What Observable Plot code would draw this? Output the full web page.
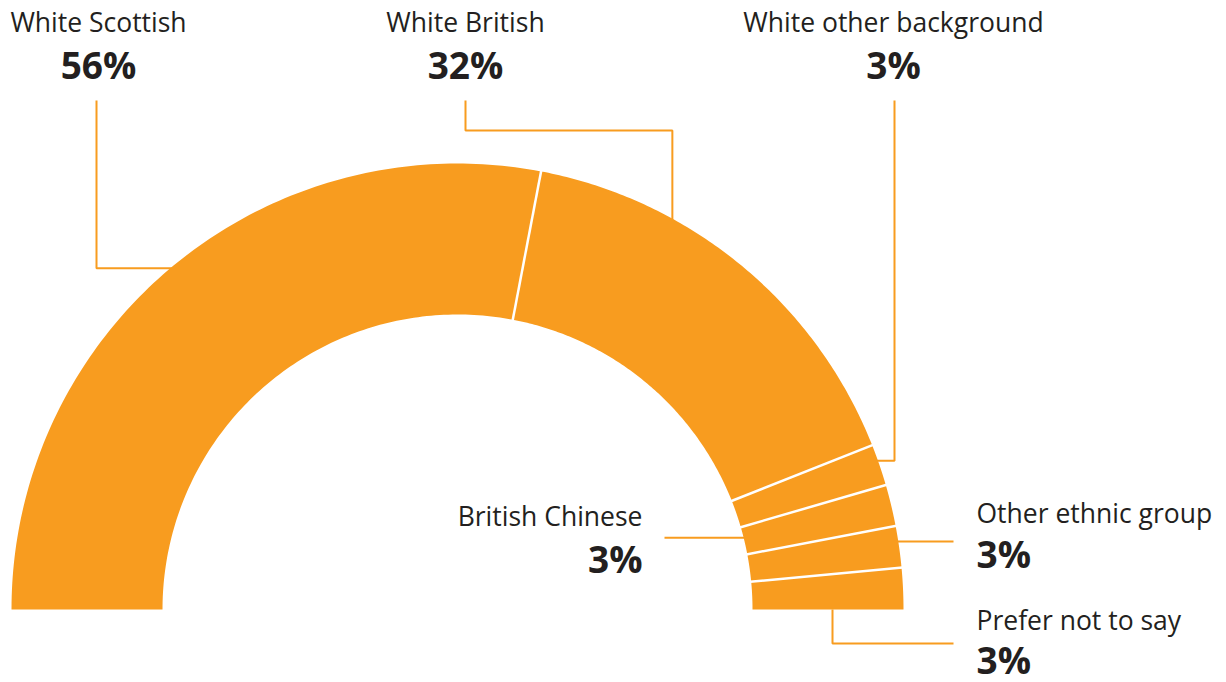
<!DOCTYPE html>
<html>
<head>
<meta charset="utf-8">
<script src="https://cdn.jsdelivr.net/npm/d3@7"></script>
<script src="https://cdn.jsdelivr.net/npm/@observablehq/plot@0.6"></script>
<style>
  html, body { margin: 0; padding: 0; background: #ffffff; }
  #chart svg { display: block; }
</style>
</head>
<body>
<div id="chart"></div>
<script>
// ---- Data ----
const categories = ["White Scottish", "White British", "White other background", "British Chinese", "Other ethnic group", "Prefer not to say"];
const values = [56, 32, 3, 3, 3, 3];
const pctLabels = ["56%", "32%", "3%", "3%", "3%", "3%"];

// ---- Layout (pixels) ----
const W = 1226, H = 682;
const cx = 457, cy = 609, rOuter = 446, rInner = 295, rMid = 370;
const orange = "#f89c1f";
const ink = "#231f20";
const font = "'Open Sans', 'Noto Sans', sans-serif";

// label placement: t = position along the slice used for the connector anchor
const labelLayout = [
  {x: 98,  anchor: "middle", yName: 31,  yPct: 78,  path: "top",      lineX: 96,  lineTop: 100, t: 0.495, ring: "outer"},
  {x: 465, anchor: "middle", yName: 31,  yPct: 78,  path: "topElbow", lineX: 465, lineTop: 100, elbowY: 130, t: 0.3125, ring: "outer"},
  {x: 893, anchor: "middle", yName: 31,  yPct: 78,  path: "top",      lineX: 894, lineTop: 100, t: 0.39, ring: "outer"},
  {x: 642, anchor: "end",    yName: 525, yPct: 572, path: "side",     lineX: 664, t: 0.39, ring: "inner"},
  {x: 976, anchor: "start",  yName: 522, yPct: 567, path: "side",     lineX: 953, t: 0.376, ring: "outer"},
  {x: 976, anchor: "start",  yName: 629, yPct: 673, path: "bottom",   lineX: 953, lineY: 643, t: 1, ring: "mid", r: 375}
];

// ---- Geometry from values via d3.pie ----
const pie = d3.pie().sort(null).value(d => d.value).startAngle(-Math.PI / 2).endAngle(Math.PI / 2);
const arcs = pie(categories.map((c, i) => ({category: c, value: values[i], pct: pctLabels[i]})));

const px = (r, a) => cx + r * Math.sin(a);
const py = (r, a) => cy - r * Math.cos(a);

const slicePts = [];
arcs.forEach((a, i) => {
  const n = 120;
  for (let k = 0; k <= n; k++) {
    const ang = a.startAngle + (a.endAngle - a.startAngle) * k / n;
    slicePts.push({slice: i, x: px(rOuter, ang), y: py(rOuter, ang)});
  }
  for (let k = n; k >= 0; k--) {
    const ang = a.startAngle + (a.endAngle - a.startAngle) * k / n;
    slicePts.push({slice: i, x: px(rInner, ang), y: py(rInner, ang)});
  }
});

const separators = arcs.slice(0, -1).map(a => ({
  x1: px(rInner - 1, a.endAngle), y1: py(rInner - 1, a.endAngle),
  x2: px(rOuter + 1, a.endAngle), y2: py(rOuter + 1, a.endAngle)
}));

// connectors
const connPts = [];
labelLayout.forEach((L, i) => {
  const a = arcs[i];
  const ang = a.startAngle + (a.endAngle - a.startAngle) * L.t;
  const rEdge = L.ring === "outer" ? rOuter : L.ring === "inner" ? rInner : L.r;
  const ex = px(rEdge, ang), ey = py(rEdge, ang);
  const mx = px(rMid, ang), my = py(rMid, ang);
  let pts;
  if (L.path === "top") pts = [[L.lineX, L.lineTop], [L.lineX, ey], [mx, ey]];
  else if (L.path === "topElbow") pts = [[L.lineX, L.lineTop], [L.lineX, L.elbowY], [ex, L.elbowY], [ex, my]];
  else if (L.path === "side") pts = [[L.lineX, ey], [mx, ey]];
  else pts = [[ex, ey], [ex, L.lineY], [L.lineX, L.lineY]];
  pts.forEach(p => connPts.push({k: i, x: p[0], y: p[1]}));
});

const labels = labelLayout.map((L, i) => ({...L, name: categories[i], pct: pctLabels[i]}));

const textMarks = ["middle", "end", "start"].flatMap(anchor => {
  const sub = labels.filter(d => d.anchor === anchor);
  return [
    Plot.text(sub, {x: "x", y: "yName", text: "name", textAnchor: anchor, lineAnchor: "bottom", fontSize: 26.5, fill: ink, fontFamily: font}),
    Plot.text(sub, {x: "x", y: "yPct", text: "pct", textAnchor: anchor, lineAnchor: "bottom", fontSize: 37, fontWeight: "bold", fill: ink, fontFamily: font})
  ];
});

const chart = Plot.plot({
  width: W,
  height: H,
  margin: 0,
  style: {background: "#ffffff", fontFamily: font},
  x: {domain: [0, W], range: [0, W], axis: null},
  y: {domain: [0, H], range: [0, H], axis: null},
  marks: [
    Plot.line(connPts, {x: "x", y: "y", z: "k", stroke: orange, strokeWidth: 2, curve: "linear", strokeLinejoin: "miter", strokeLinecap: "butt"}),
    Plot.line(slicePts, {x: "x", y: "y", z: "slice", fill: orange, stroke: "none"}),
    Plot.link(separators, {x1: "x1", y1: "y1", x2: "x2", y2: "y2", stroke: "white", strokeWidth: 2.5}),
    ...textMarks
  ]
});
document.getElementById("chart").appendChild(chart);
</script>
</body>
</html>
